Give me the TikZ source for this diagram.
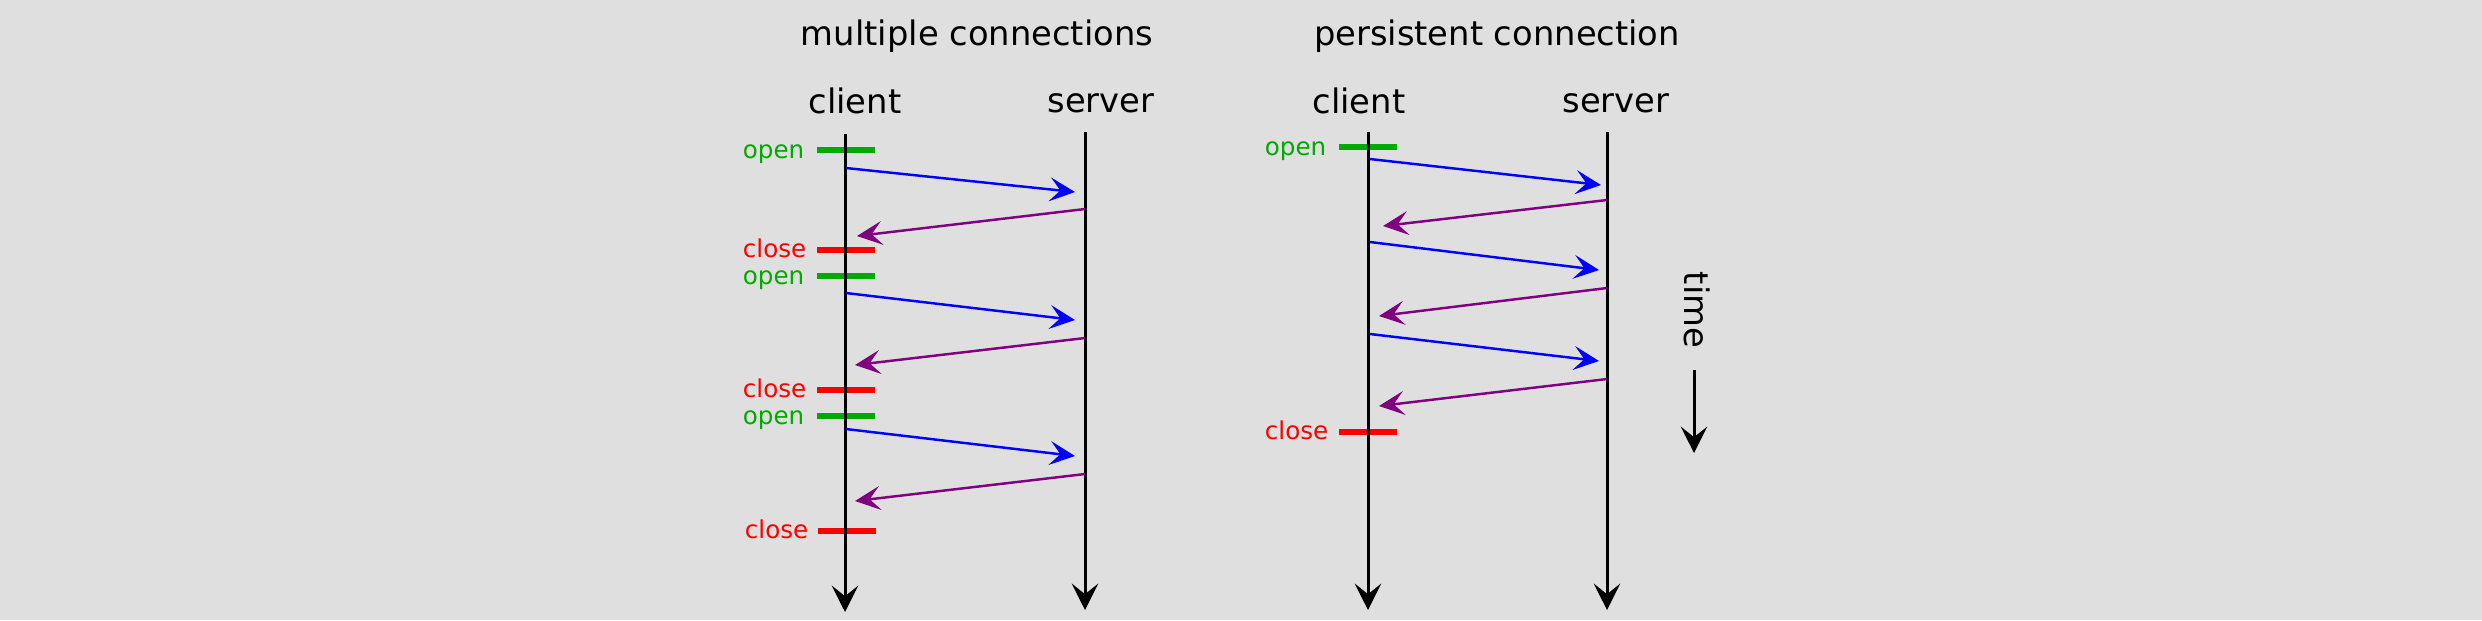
\documentclass[tikz,border=0pt]{standalone}
\usepackage{fontspec}
\setmainfont{DejaVu Sans}
\usetikzlibrary{arrows.meta}
\definecolor{bggray}{HTML}{DFDFDF}
\definecolor{opengreen}{HTML}{00AA00}
\definecolor{replypurple}{HTML}{800080}
\begin{document}
\begin{tikzpicture}[x=0.01cm, y=-0.01cm]
            \tikzset{heading/.style = {anchor=base, inner sep=0pt, font=\fontsize{9.6pt}{11pt}\selectfont}}
            \tikzset{marklabel/.style = {anchor=base east, inner sep=0pt, font=\fontsize{7pt}{8pt}\selectfont}}
            \tikzset{openbar/.style = {fill=opengreen, inner sep=0pt, minimum width=0.58cm, minimum height=0.06cm}}
            \tikzset{closebar/.style = {fill=red, inner sep=0pt, minimum width=0.58cm, minimum height=0.06cm}}
            \tikzset{lifeline/.style = {line width=0.85pt, -{Stealth[length=7.5pt, width=7.5pt, inset=3pt]}}}
            \tikzset{request/.style = {blue, line width=0.7pt, -{Stealth[length=7.2pt, width=6.8pt, inset=3pt]}}}
            \tikzset{reply/.style = {replypurple, line width=0.7pt, -{Stealth[length=7.2pt, width=6.8pt, inset=3pt]}}}

            \fill[bggray] (0,0) rectangle (2482,620);
            \useasboundingbox (0,0) rectangle (2482,620);

            \node[heading] (multi) at (977,45) {multiple connections};
            \node[heading] (persist) at (1497,45) {persistent connection};

            \node[heading] (lclient) at (855,113) {client};
            \node[heading] (lserver) at (1101,112) {server};
            \node[heading] (rclient) at (1359,113) {client};
            \node[heading] (rserver) at (1616,112) {server};

            \node[openbar] (lopen1) at (846,150) {};
            \node[closebar] (lclose1) at (846,250) {};
            \node[openbar] (lopen2) at (846,276) {};
            \node[closebar] (lclose2) at (846,390) {};
            \node[openbar] (lopen3) at (846,416) {};
            \node[closebar] (lclose3) at (847,531) {};

            \node[marklabel, opengreen] (lopen1text) at (805,158) {open};
            \node[marklabel, red] (lclose1text) at (807,257) {close};
            \node[marklabel, opengreen] (lopen2text) at (805,284) {open};
            \node[marklabel, red] (lclose2text) at (807,397) {close};
            \node[marklabel, opengreen] (lopen3text) at (805,424) {open};
            \node[marklabel, red] (lclose3text) at (809,538) {close};

            \node[openbar] (ropen1) at (1368,147) {};
            \node[closebar] (rclose1) at (1368,432) {};
            \node[marklabel, opengreen] (ropen1text) at (1327,155) {open};
            \node[marklabel, red] (rclose1text) at (1329,439) {close};

            \coordinate (lctop) at (845,134);
            \coordinate (lcbot) at (845,612);
            \coordinate (lstop) at (1085,132);
            \coordinate (lsbot) at (1085,610);
            \coordinate (rctop) at (1368,132);
            \coordinate (rcbot) at (1368,610);
            \coordinate (rstop) at (1607,132);
            \coordinate (rsbot) at (1607,610);

            \draw[lifeline] (lctop) to (lcbot);
            \draw[lifeline] (lstop) to (lsbot);
            \draw[lifeline] (rctop) to (rcbot);
            \draw[lifeline] (rstop) to (rsbot);

            \coordinate (lq1a) at (846,168);
            \coordinate (lq1b) at (1075,192);
            \coordinate (lr1a) at (1085,209);
            \coordinate (lr1b) at (857,236);
            \coordinate (lq2a) at (846,293);
            \coordinate (lq2b) at (1075,320);
            \coordinate (lr2a) at (1085,338);
            \coordinate (lr2b) at (855,365);
            \coordinate (lq3a) at (846,429);
            \coordinate (lq3b) at (1075,456);
            \coordinate (lr3a) at (1085,474);
            \coordinate (lr3b) at (855,501);

            \draw[request] (lq1a) to (lq1b);
            \draw[reply] (lr1a) to (lr1b);
            \draw[request] (lq2a) to (lq2b);
            \draw[reply] (lr2a) to (lr2b);
            \draw[request] (lq3a) to (lq3b);
            \draw[reply] (lr3a) to (lr3b);

            \coordinate (rq1a) at (1370,159);
            \coordinate (rq1b) at (1601,185);
            \coordinate (rr1a) at (1607,200);
            \coordinate (rr1b) at (1383,226);
            \coordinate (rq2a) at (1370,242);
            \coordinate (rq2b) at (1599,270);
            \coordinate (rr2a) at (1607,288);
            \coordinate (rr2b) at (1379,316);
            \coordinate (rq3a) at (1370,334);
            \coordinate (rq3b) at (1599,361);
            \coordinate (rr3a) at (1607,379);
            \coordinate (rr3b) at (1379,406);

            \draw[request] (rq1a) to (rq1b);
            \draw[reply] (rr1a) to (rr1b);
            \draw[request] (rq2a) to (rq2b);
            \draw[reply] (rr2a) to (rr2b);
            \draw[request] (rq3a) to (rq3b);
            \draw[reply] (rr3a) to (rr3b);

            \node[heading, anchor=center, rotate=-90] (time) at (1697,310) {time};
            \coordinate (timetop) at (1694,370);
            \coordinate (timebot) at (1694,453);
            \draw[lifeline] (timetop) to (timebot);
\end{tikzpicture}
\end{document}
